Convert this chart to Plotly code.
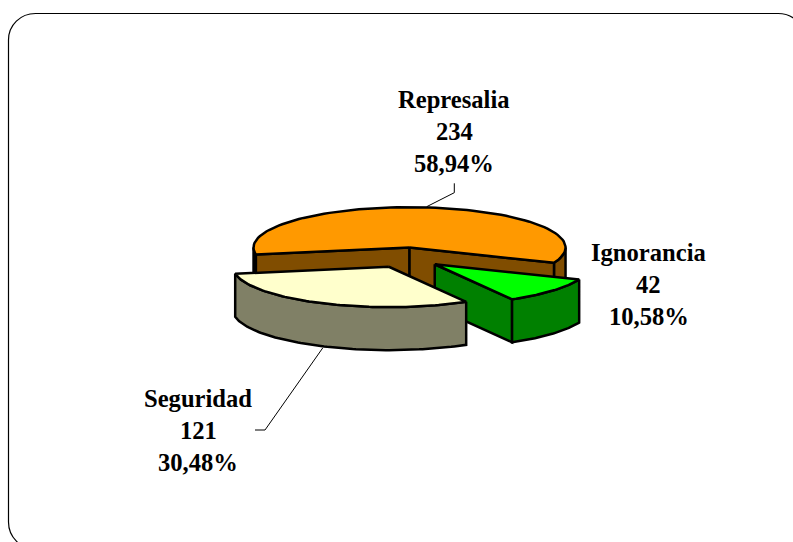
import numpy as np
import plotly.graph_objects as go

categories = ["Represalia", "Ignorancia", "Seguridad"]
values = [234, 42, 121]
percent_labels = ["58,94%", "10,58%", "30,48%"]

W, H = 793, 542
CX, CY, RX, RY, DEPTH, EXPLODE = 405.4, 257.6, 156.0, 40.4, 43.0, 0.25
START = 170.0
FONT = dict(family="Liberation Serif", size=24.6, color="black")
LW = 2.5

TOPS = {"Represalia": "#FF9900", "Ignorancia": "#00FF00", "Seguridad": "#FFFFCC"}
SIDES = {"Represalia": "#804D00", "Ignorancia": "#008000", "Seguridad": "#808066"}
LABEL_POS = {"Represalia": (454, 99), "Ignorancia": (648.5, 252), "Seguridad": (198, 398)}
LINE_GAP = 32
LEADERS = {"Represalia": ([426.7, 454.3, 454.3], [206.7, 192.7, 183.3]),
           "Seguridad": ([322.7, 265, 255], [348, 430, 430])}

fig = go.Figure()


def poly(xs, ys, fill):
    fig.add_trace(go.Scatter(x=list(xs), y=list(ys), mode="lines", fill="toself", fillcolor=fill,
                             line=dict(color="black", width=LW), hoverinfo="skip", showlegend=False))


def arc(ox, oy, a0, a1, dz=0.0):
    t = np.radians(np.linspace(a0, a1, 90))
    return ox + RX * np.cos(t), oy + RY * np.sin(t) + dz


def rim(ox, oy, a0, a1):
    x, y = arc(ox, oy, a0, a1)
    return np.r_[x, x[::-1], x[0]], np.r_[y, y[::-1] + DEPTH, y[0]]


def wall(ox, oy, a):
    x, y = arc(ox, oy, a, a)
    x, y = x[0], y[0]
    return [ox, x, x, ox, ox], [oy, y, y + DEPTH, oy + DEPTH, oy]


def top(ox, oy, a0, a1):
    x, y = arc(ox, oy, a0, a1)
    return np.r_[ox, x, ox], np.r_[oy, y, oy]


# leader lines sit behind the pie
for name, (lx, ly) in LEADERS.items():
    fig.add_trace(go.Scatter(x=lx, y=ly, mode="lines", line=dict(color="black", width=1),
                             hoverinfo="skip", showlegend=False))

# angular span of every slice, taken from the values
total = sum(values)
angle = START
spans = {}
for name, v in zip(categories, values):
    d = v / total * 360
    mid = np.radians(angle + d / 2)
    spans[name] = (angle, angle + d,
                   CX + EXPLODE * RX * np.cos(mid), CY + EXPLODE * RY * np.sin(mid))
    angle += d

# Represalia: back slice
a0, a1, ox, oy = spans["Represalia"]
s = SIDES["Represalia"]
poly(*rim(ox, oy, a0, 180), s)
poly(*rim(ox, oy, 360, a1), s)
poly(*wall(ox, oy, a0), s)
poly(*wall(ox, oy, a1), s)
poly(*top(ox, oy, a0, a1), TOPS["Represalia"])

# Ignorancia: right slice
a0, a1, ox, oy = spans["Ignorancia"]
s = SIDES["Ignorancia"]
poly(*wall(ox, oy, a1 % 360), s)
poly(*rim(ox, oy, a0, a1), s)
poly(*top(ox, oy, a0, a1), TOPS["Ignorancia"])

# Seguridad: front slice
a0, a1, ox, oy = spans["Seguridad"]
s = SIDES["Seguridad"]
poly(*rim(ox, oy, a0, a1), s)
poly(*top(ox, oy, a0, a1), TOPS["Seguridad"])

# labels
for name, v, p in zip(categories, values, percent_labels):
    x, y = LABEL_POS[name]
    for i, txt in enumerate([name, str(v), p]):
        fig.add_annotation(x=x, y=y + i * LINE_GAP, text=f"<b>{txt}</b>", showarrow=False,
                           font=FONT, xanchor="center", yanchor="middle")

frame = ("M 8.5 40 C 8.5 25 20.5 13.5 35.5 13.5 L 778 13.5 C 793 13.5 805 25 805 40 "
         "L 805 522 C 805 537 793 549 778 549 L 35.5 549 C 20.5 549 8.5 537 8.5 522 Z")
fig.update_layout(
    width=W, height=H, margin=dict(l=0, r=0, t=0, b=0),
    paper_bgcolor="white", plot_bgcolor="white", showlegend=False,
    xaxis=dict(range=[0, W], visible=False, fixedrange=True),
    yaxis=dict(range=[H, 0], visible=False, fixedrange=True),
    shapes=[dict(type="path", path=frame, line=dict(color="black", width=1.2), layer="below")],
)
fig.write_html("out.html", config={"displayModeBar": False},
               post_script="document.body.style.margin='0';")
